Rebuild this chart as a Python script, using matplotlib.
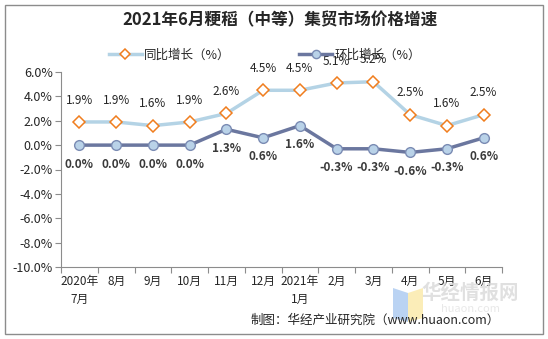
import matplotlib
matplotlib.use("Agg")
import matplotlib.pyplot as plt
from matplotlib.patches import Rectangle, Polygon

plt.rcParams['font.family'] = ['Noto Sans CJK SC', 'DejaVu Sans']

months = ["2020年\n7月", "8月", "9月", "10月", "11月", "12月", "2021年\n1月",
          "2月", "3月", "4月", "5月", "6月"]
yoy = [1.9, 1.9, 1.6, 1.9, 2.6, 4.5, 4.5, 5.1, 5.2, 2.5, 1.6, 2.5]
mom = [0.0, 0.0, 0.0, 0.0, 1.3, 0.6, 1.6, -0.3, -0.3, -0.6, -0.3, 0.6]
yticks = [6, 4, 2, 0, -2, -4, -6, -8, -10]

fig = plt.figure(figsize=(5.48, 3.39), dpi=100)
fig.patches.append(Rectangle((5 / 548, 5 / 339), 538 / 548, 329 / 339,
                             transform=fig.transFigure, fill=False,
                             edgecolor="#8c8c8c", lw=1.0))

ax = fig.add_axes([61 / 548, 1 - 267 / 339, 441 / 548, 195 / 339])
x = list(range(len(months)))

ax.plot(x, yoy, color="#b4d3e5", lw=2.5, marker="D", ms=6,
        mfc="white", mec="#f07d1e", mew=1.1, label="同比增长（%）", zorder=3)
ax.plot(x, mom, color="#6b779f", lw=2.5, marker="o", ms=7,
        mfc="#b9d2e8", mec="#7a8bb3", mew=1.0, label="环比增长（%）", zorder=3)

for i, v in enumerate(yoy):
    ax.annotate(f"{v:.1f}%", (i, v), xytext=(0, 11), textcoords="offset points",
                ha="center", va="bottom", fontsize=8.5, color="#262626")
for i, v in enumerate(mom):
    ax.annotate(f"{v:.1f}%", (i, v), xytext=(0, -9), textcoords="offset points",
                ha="center", va="top", fontsize=8.5, color="#3a3a3a",
                fontweight="bold")

ax.set_xlim(-0.5, len(months) - 0.5)
ax.set_ylim(-10, 6)
ax.set_yticks(yticks)
ax.set_yticklabels([f"{t:.1f}%" for t in yticks], fontsize=9, color="#262626")
ax.set_xticks([i - 0.5 for i in range(len(months) + 1)])
ax.set_xticklabels([])
ax.set_xticks(x, minor=True)
ax.set_xticklabels(months, minor=True, fontsize=8.5, color="#262626",
                   va="top", linespacing=1.5)
ax.tick_params(axis="x", which="minor", length=0, pad=6)
ax.tick_params(axis="x", which="major", length=4, color="#8c8c8c")
ax.tick_params(axis="y", length=4, color="#8c8c8c", pad=2)
for side in ("top", "right"):
    ax.spines[side].set_visible(False)
for side in ("left", "bottom"):
    ax.spines[side].set_color("#8c8c8c")

fig.text(280 / 548, 1 - 20 / 339, "2021年6月粳稻（中等）集贸市场价格增速",
         ha="center", va="center", fontsize=12, fontweight="bold", color="#262626")
fig.legend(loc="center", bbox_to_anchor=(265 / 548, 1 - 55 / 339), ncol=2,
           frameon=False, fontsize=9, columnspacing=5.5, handlelength=2.6,
           handletextpad=0.2, markerscale=0.85, labelcolor="#262626")

# watermark in the lower right corner
fig.patches.append(Polygon([(393 / 548, 1 - 288 / 339), (408 / 548, 1 - 293 / 339),
                            (408 / 548, 1 - 322 / 339), (393 / 548, 1 - 318 / 339)],
                           closed=True, transform=fig.transFigure,
                           facecolor="#a9c8f0", alpha=0.8, zorder=1))
fig.patches.append(Polygon([(408 / 548, 1 - 293 / 339), (423 / 548, 1 - 288 / 339),
                            (423 / 548, 1 - 318 / 339), (408 / 548, 1 - 322 / 339)],
                           closed=True, transform=fig.transFigure,
                           facecolor="#fbe9a6", alpha=0.8, zorder=1))
fig.text(470 / 548, 1 - 293 / 339, "华经情报网", ha="center", va="center",
         fontsize=14, fontweight="bold", color="#d9d9d9", alpha=0.8)
fig.text(470 / 548, 1 - 309 / 339, "huaon.com", ha="center", va="center",
         fontsize=8, color="#e3e3e3", alpha=0.8)

fig.text(500 / 548, 1 - 320 / 339, "制图：华经产业研究院（www.huaon.com）",
         ha="right", va="center", fontsize=9, color="#262626")

fig.savefig("out.png", dpi=100)
